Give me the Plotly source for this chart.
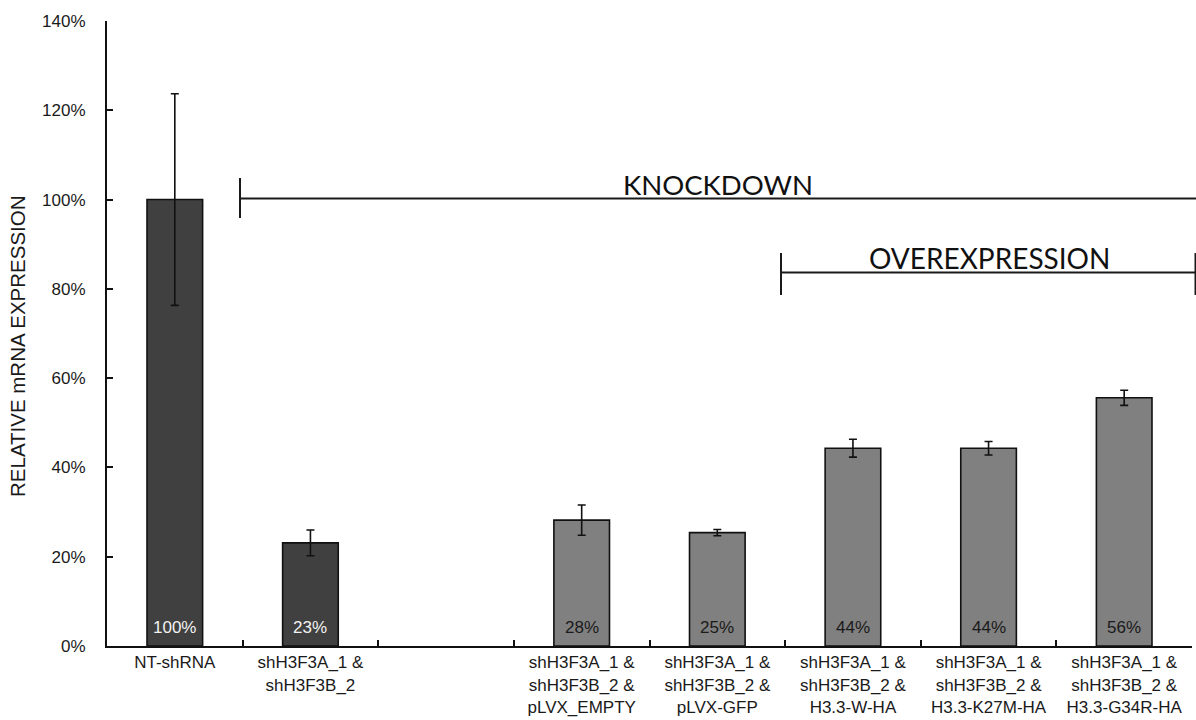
import plotly.graph_objects as go

# Conditions shown along the x axis (third slot intentionally left empty)
categories = [
    "NT-shRNA",
    "shH3F3A_1 &<br>shH3F3B_2",
    " ",
    "shH3F3A_1 &<br>shH3F3B_2 &<br>pLVX_EMPTY",
    "shH3F3A_1 &<br>shH3F3B_2 &<br>pLVX-GFP",
    "shH3F3A_1 &<br>shH3F3B_2 &<br>H3.3-W-HA",
    "shH3F3A_1 &<br>shH3F3B_2 &<br>H3.3-K27M-HA",
    "shH3F3A_1 &<br>shH3F3B_2 &<br>H3.3-G34R-HA",
]
# Relative mRNA expression (%) and its error
expression = [100.0, 23.1, None, 28.2, 25.4, 44.3, 44.3, 55.6]
expression_err = [23.7, 2.9, None, 3.4, 0.7, 2.0, 1.5, 1.7]
group = ["ctrl", "ctrl", None, "rescue", "rescue", "rescue", "rescue", "rescue"]

y_ticks = [0, 20, 40, 60, 80, 100, 120, 140]
y_tick_labels = ["0%", "20%", "40%", "60%", "80%", "100%", "120%", "140%"]

FILL = {"ctrl": "#404040", "rescue": "#808080", None: "rgba(0,0,0,0)"}
LABEL_COLOR = {"ctrl": "#f2f2f2", "rescue": "#1a1a1a", None: "#000"}

W, H = 1196, 720
L, R, T, B = 107, 4, 21, 74


def px_x(x):
    return (x - L) / (W - L - R)


def px_y(y):
    return (H - B - y) / (H - T - B)


fig = go.Figure()
fig.add_trace(
    go.Bar(
        x=categories,
        y=expression,
        marker=dict(
            color=[FILL[g] for g in group],
            line=dict(color="#111111", width=1.6),
        ),
        error_y=dict(
            type="data",
            array=[e if e is not None else 0 for e in expression_err],
            color="#111111",
            thickness=1.6,
            width=4,
        ),
        hoverinfo="skip",
        showlegend=False,
    )
)

annotations = []
# Value labels sitting at the base of each bar
for cat, val, g in zip(categories, expression, group):
    if val is None:
        continue
    annotations.append(
        dict(
            x=cat, y=0, xref="x", yref="y",
            text=f"{val:.0f}%",
            showarrow=False,
            yanchor="bottom",
            yshift=7,
            font=dict(family="Liberation Sans, Arial, sans-serif", size=17,
                      color=LABEL_COLOR[g]),
        )
    )

# Y axis title, placed as a rotated annotation
annotations.append(dict(
    x=px_x(17), y=px_y(346), xref="paper", yref="paper",
    text="RELATIVE mRNA EXPRESSION", showarrow=False, textangle=-90,
    xanchor="center", yanchor="middle",
    font=dict(family="Liberation Sans, Arial, sans-serif", size=20.5, color="#1a1a1a"),
))

# Bracket captions
annotations.append(dict(
    x=px_x(718), y=px_y(184), xref="paper", yref="paper",
    text="KNOCKDOWN", showarrow=False, xanchor="center", yanchor="middle",
    font=dict(family="Lato, Carlito, sans-serif", size=27.5, color="#111111"),
))
annotations.append(dict(
    x=px_x(989), y=px_y(258), xref="paper", yref="paper",
    text="OVEREXPRESSION", showarrow=False, xanchor="center", yanchor="middle",
    font=dict(family="Lato, Carlito, sans-serif", size=28, color="#111111"),
))

line_style = dict(color="#1a1a1a", width=2)
shapes = [
    # KNOCKDOWN bracket
    dict(type="line", xref="paper", yref="paper",
         x0=px_x(240), x1=px_x(240), y0=px_y(178), y1=px_y(218), line=line_style),
    dict(type="line", xref="paper", yref="paper",
         x0=px_x(240), x1=px_x(1197), y0=px_y(198.5), y1=px_y(198.5), line=line_style),
    # OVEREXPRESSION bracket
    dict(type="line", xref="paper", yref="paper",
         x0=px_x(781), x1=px_x(781), y0=px_y(253), y1=px_y(295), line=line_style),
    dict(type="line", xref="paper", yref="paper",
         x0=px_x(781), x1=px_x(1197), y0=px_y(272.5), y1=px_y(272.5), line=line_style),
    dict(type="line", xref="paper", yref="paper",
         x0=px_x(1195.5), x1=px_x(1195.5), y0=px_y(253), y1=px_y(295), line=line_style),
]

tick_font = dict(family="Liberation Sans, Arial, sans-serif", size=17, color="#1a1a1a")

fig.update_layout(
    width=W, height=H,
    margin=dict(l=L, r=R, t=T, b=B, pad=0),
    paper_bgcolor="white",
    plot_bgcolor="white",
    bargap=0.59,
    annotations=annotations,
    shapes=shapes,
    xaxis=dict(
        type="category",
        categoryorder="array",
        categoryarray=categories,
        range=[-0.5, len(categories) - 0.5],
        showline=True, linecolor="#111111", linewidth=2,
        ticks="inside", tickson="boundaries", ticklen=6, tickwidth=2,
        tickcolor="#111111",
        tickfont=tick_font,
        showgrid=False, zeroline=False,
        fixedrange=True,
    ),
    yaxis=dict(
        range=[0, 140],
        tickmode="array",
        tickvals=y_ticks,
        ticktext=y_tick_labels,
        showline=True, linecolor="#111111", linewidth=2,
        ticks="inside", ticklen=6, tickwidth=2, tickcolor="#111111",
        tickfont=tick_font,
        ticklabelstandoff=16,
        showgrid=False, zeroline=False,
        fixedrange=True,
    ),
)

fig.write_html("out.html")
